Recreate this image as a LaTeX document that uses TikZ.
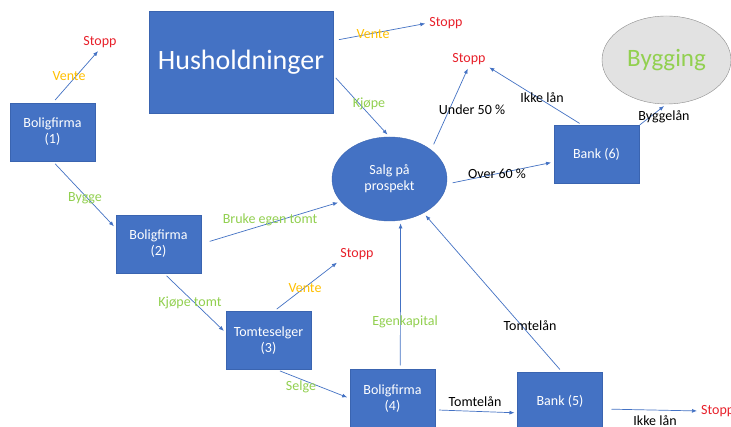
\documentclass[tikz,border=0pt]{standalone}
\usepackage{fontspec}
\setmainfont{Carlito}
\usetikzlibrary{shapes.geometric,arrows.meta}
\definecolor{boxblue}{HTML}{4472C4}
\definecolor{boxedge}{HTML}{3A64B0}
\definecolor{lblgreen}{HTML}{92D050}
\definecolor{lblyellow}{HTML}{FFC000}
\definecolor{lblred}{HTML}{E8202A}
\definecolor{bygfill}{HTML}{E2E2E2}
\definecolor{bygedge}{HTML}{8C8C8C}

\begin{document}
\begin{tikzpicture}[x=1pt,y=-1pt,
  every node/.style={font=\fontsize{14}{16}\selectfont},
  actor/.style={rectangle,fill=boxblue,draw=boxedge,text=white,align=center,
    minimum width=85pt,minimum height=58pt,inner sep=0pt,outer sep=0pt},
  flow/.style={draw=boxblue,line width=.7pt,-{Latex[length=5pt,width=4pt]},
    shorten <=4pt,shorten >=3pt},
  stopp/.style={text=lblred,inner sep=1pt},
  ja/.style={text=lblgreen},
  vent/.style={text=lblyellow},
  svart/.style={text=black}]
  \fill[white] (0,0) rectangle (731,427);
  \useasboundingbox (0,0) rectangle (731,427);

  % aktorer
  \node[actor,minimum width=184pt,minimum height=102pt,font=\fontsize{28}{32}\selectfont] (hus) at (241,62) {Husholdninger};
  \node[actor] (b1) at (52.5,132) {Boligfirma\\(1)};
  \node[actor] (b2) at (158.5,244) {Boligfirma\\(2)};
  \node[actor] (b3) at (268.5,340.5) {Tomteselger\\(3)};
  \node[actor] (b4) at (392.5,398.5) {Boligfirma\\(4)};
  \node[actor] (b5) at (560,401.5) {Bank (5)};
  \node[actor] (b6) at (596.5,154.5) {Bank (6)};
  \node[ellipse,fill=boxblue,draw=boxedge,text=white,align=center,
    minimum width=115pt,minimum height=84pt,inner sep=0pt] (salg) at (389.5,179) {Salg på\\prospekt};
  \node[ellipse,fill=bygfill,draw=bygedge,text=lblgreen,minimum width=129pt,minimum height=88pt,
    inner sep=0pt,font=\fontsize{25}{30}\selectfont] (byg) at (666.5,60) {Bygging};

  % stopp
  \node[stopp] (s1) at (100,42) {Stopp};
  \node[stopp] (s0) at (446,23) {Stopp};
  \node[stopp] (s2) at (469,59) {Stopp};
  \node[stopp] (s3) at (357,254) {Stopp};
  \node[stopp,anchor=west] (s5) at (700,411) {Stopp};

  % piler
  \draw[flow] (b1.north) -- (s1.south);
  \draw[flow] (b1.south) -- (b2.160);
  \draw[flow] (b2.-80) -- (b3.170);
  \draw[flow] (b3.80) -- (s3.south west);
  \draw[flow] (b3.-75) -- (b4.west);
  \draw[flow] (b4.-15) -- (b5.195);
  \draw[flow,shorten <=9pt] (b5.-10) -- (s5.west);
  \draw[flow] (b4.75) -- (salg.-75);
  \draw[flow] (b5.85) -- (salg.-45);
  \draw[flow,shorten <=9pt] (b2.east) -- (salg.205);
  \draw[flow] (hus.-8) -- (salg.north);
  \draw[flow,shorten <=6pt] (hus.13) -- (s0.west);
  \draw[flow,shorten <=6pt] (salg.35) -- (s2.south);
  \draw[flow,shorten <=6pt] (salg.-5) -- (b6.190);
  \draw[flow] (b6.115) -- (s2.south east);
  \draw[flow,shorten <=1pt] (b6.north east) -- (byg.south);

  % etiketter
  \node[vent] (l1) at (69,76) {Vente};
  \node[ja] (l2) at (85,198) {Bygge};
  \node[ja] (l3) at (270,220) {Bruke egen tomt};
  \node[ja] (l4) at (190,303) {Kjøpe tomt};
  \node[vent] (l5) at (305,288) {Vente};
  \node[ja] (l6) at (301,387) {Selge};
  \node[svart] (l7) at (475,402) {Tomtelån};
  \node[svart] (l8) at (655,421) {Ikke lån};
  \node[ja] (l9) at (405,322) {Egenkapital};
  \node[svart] (l10) at (530,326) {Tomtelån};
  \node[vent] (l11) at (373,34) {Vente};
  \node[ja] (l12) at (369,104) {Kjøpe};
  \node[svart] (l13) at (472,110) {Under 50 \%};
  \node[svart] (l14) at (542,98) {Ikke lån};
  \node[svart] (l15) at (664,117) {Byggelån};
  \node[svart] (l16) at (497,174) {Over 60 \%};
\end{tikzpicture}
\end{document}
